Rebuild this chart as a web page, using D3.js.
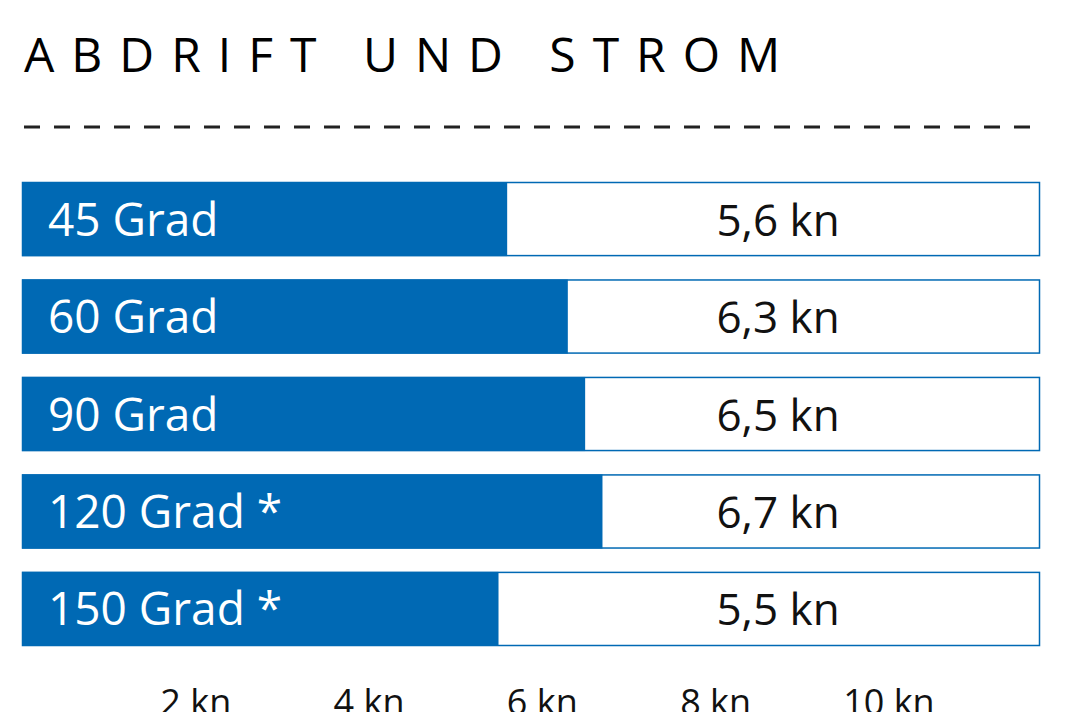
<!DOCTYPE html>
<meta charset="utf-8">
<html>
<head>
<script src="https://d3js.org/d3.v7.min.js"></script>
<style>body{margin:0;background:#fff}</style>
</head>
<body>
<script>
// data
var categories = ["45 Grad", "60 Grad", "90 Grad", "120 Grad *", "150 Grad *"];
var values = [5.6, 6.3, 6.5, 6.7, 5.5];
var valueLabels = ["5,6 kn", "6,3 kn", "6,5 kn", "6,7 kn", "5,5 kn"];
var tickValues = [2, 4, 6, 8, 10];

var width = 1068, height = 712;
var font = "'Open Sans', 'Noto Sans', sans-serif";
var blue = "#0069b4";

var svg = d3.select("body").append("svg")
    .attr("width", width).attr("height", height);

svg.append("text")
    .attr("x", 24).attr("y", 72)
    .style("font-family", font).style("font-size", "48px")
    .style("letter-spacing", "17px")
    .text("ABDRIFT UND STROM");

svg.append("line")
    .attr("x1", 24).attr("x2", 1040).attr("y1", 127).attr("y2", 127)
    .attr("stroke", "#222").attr("stroke-width", 3)
    .attr("stroke-dasharray", "16,14");

var x = d3.scaleLinear().domain([0, 11.75]).range([22, 1040]);
var y = d3.scaleBand().domain(categories).range([182, 645]).paddingInner(0.25).paddingOuter(0);

var g = svg.append("g");
g.selectAll("rect.bg").data(categories).join("rect")
    .attr("class", "bg")
    .attr("x", x(0) + 0.5).attr("y", d => y(d) + 0.5)
    .attr("width", x(11.75) - x(0) - 1).attr("height", y.bandwidth())
    .attr("fill", "#fff").attr("stroke", blue).attr("stroke-width", 1.5);

g.selectAll("rect.bar").data(values).join("rect")
    .attr("class", "bar")
    .attr("x", x(0)).attr("y", (d, i) => y(categories[i]))
    .attr("width", d => x(d) - x(0)).attr("height", y.bandwidth() + 1)
    .attr("fill", blue);

g.selectAll("text.cat").data(categories).join("text")
    .attr("class", "cat")
    .attr("x", 48).attr("y", d => y(d) + y.bandwidth() / 2 + 17)
    .attr("fill", "#fff").style("font-family", font).style("font-size", "46px")
    .text(d => d);

g.selectAll("text.val").data(valueLabels).join("text")
    .attr("class", "val")
    .attr("x", 778).attr("text-anchor", "middle")
    .attr("y", (d, i) => y(categories[i]) + y.bandwidth() / 2 + 17)
    .attr("fill", "#111").style("font-family", font).style("font-size", "44px")
    .text(d => d);

var axis = d3.axisBottom(x).tickValues(tickValues).tickSize(0)
    .tickFormat(d => d + " kn");
var ag = svg.append("g").attr("transform", "translate(0,672)").call(axis);
ag.select(".domain").remove();
ag.selectAll("text").style("font-family", font).style("font-size", "36px")
    .attr("fill", "#111").attr("dy", "1.1em");
</script>
</body>
</html>
